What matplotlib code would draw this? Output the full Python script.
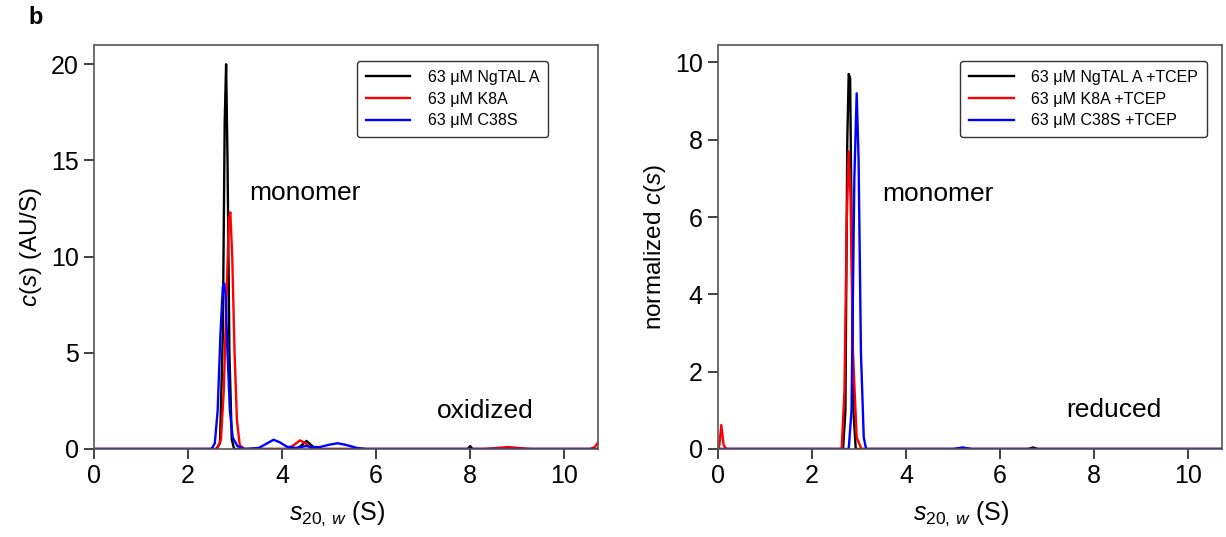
import matplotlib
matplotlib.use("Agg")
import matplotlib.pyplot as plt

plt.rcParams['font.family'] = ['Liberation Sans', 'DejaVu Sans']
plt.rcParams['mathtext.fontset'] = 'custom'
plt.rcParams['mathtext.rm'] = 'Liberation Sans'
plt.rcParams['mathtext.it'] = 'Liberation Sans:italic'
plt.rcParams['mathtext.bf'] = 'Liberation Sans:bold'

# ---- Left panel (oxidized) ----
ox_black_s = [0, 2.60, 2.68, 2.74, 2.78, 2.81, 2.84, 2.88, 2.93, 2.98, 4.30, 4.42, 4.52, 4.62, 4.72, 7.95, 8.00, 8.05, 10.75]
ox_black_c = [0, 0, 0.3, 6.0, 17.0, 20.0, 15.0, 5.0, 0.5, 0, 0, 0.2, 0.42, 0.2, 0, 0, 0.15, 0, 0]

ox_red_s = [0, 2.62, 2.70, 2.76, 2.82, 2.87, 2.90, 2.94, 2.99, 3.04, 3.10, 3.20, 4.10, 4.25, 4.38, 4.50, 4.62, 4.70, 8.30, 8.80, 9.30, 10.55, 10.65, 10.75]
ox_red_c = [0, 0, 0.5, 3.0, 8.0, 12.0, 12.3, 10.0, 5.0, 1.5, 0.2, 0, 0, 0.2, 0.45, 0.3, 0.05, 0, 0, 0.1, 0, 0, 0.1, 0.45]

ox_blue_s = [0, 2.50, 2.57, 2.63, 2.69, 2.74, 2.77, 2.80, 2.84, 2.89, 2.95, 3.05, 3.20, 3.50, 3.65, 3.82, 3.95, 4.10, 4.30, 4.50, 4.65, 4.80, 5.00, 5.18, 5.35, 5.60, 5.80, 10.75]
ox_blue_c = [0, 0, 0.3, 2.0, 6.0, 8.4, 8.6, 8.0, 5.0, 2.0, 0.6, 0.15, 0, 0.05, 0.25, 0.48, 0.35, 0.12, 0.05, 0.15, 0.1, 0.1, 0.22, 0.30, 0.22, 0.05, 0, 0]

# ---- Right panel (reduced, normalized) ----
red_black_s = [0, 2.66, 2.71, 2.75, 2.78, 2.81, 2.84, 2.88, 2.93, 6.60, 6.70, 6.80, 10.75]
red_black_c = [0, 0, 1.0, 8.0, 9.7, 9.6, 6.0, 1.0, 0, 0, 0.04, 0, 0]

red_red_s = [0, 0.03, 0.07, 0.12, 0.18, 2.63, 2.69, 2.74, 2.78, 2.82, 2.87, 2.95, 3.05, 10.75]
red_red_c = [0, 0.1, 0.62, 0.1, 0, 0, 1.5, 6.0, 7.7, 6.5, 2.5, 0.3, 0, 0]

red_blue_s = [0, 2.78, 2.84, 2.90, 2.95, 2.99, 3.04, 3.10, 3.15, 5.00, 5.20, 5.40, 10.75]
red_blue_c = [0, 0, 1.0, 7.0, 9.2, 7.5, 2.5, 0.3, 0, 0, 0.04, 0, 0]

legend_ox = ['63 \u03bcM NgTAL A', '63 \u03bcM K8A', '63 \u03bcM C38S']
legend_red = ['63 \u03bcM NgTAL A +TCEP', '63 \u03bcM K8A +TCEP', '63 \u03bcM C38S +TCEP']
colors = ['black', '#ff0000', '#0000ff']

W, H = 1226, 537
fig = plt.figure(figsize=(W / 100, H / 100), dpi=100)

def ax_rect(x0, y0, x1, y1):
    return [x0 / W, 1 - y1 / H, (x1 - x0) / W, (y1 - y0) / H]

ax1 = fig.add_axes(ax_rect(94, 45, 598, 449))
ax2 = fig.add_axes(ax_rect(718, 45, 1222, 449))

lw = 1.7
for s, c, col, lab in zip([ox_black_s, ox_red_s, ox_blue_s],
                          [ox_black_c, ox_red_c, ox_blue_c], colors, legend_ox):
    ax1.plot(s, c, color=col, lw=lw, label=lab)
for s, c, col, lab in zip([red_black_s, red_red_s, red_blue_s],
                          [red_black_c, red_red_c, red_blue_c], colors, legend_red):
    ax2.plot(s, c, color=col, lw=lw, label=lab)

ax1.set_xlim(0, 10.72)
ax1.set_ylim(0, 21.0)
ax1.set_yticks([0, 5, 10, 15, 20])
ax2.set_xlim(0, 10.72)
ax2.set_ylim(0, 10.45)
ax2.set_yticks([0, 2, 4, 6, 8, 10])

for ax in (ax1, ax2):
    ax.set_xticks([0, 2, 4, 6, 8, 10])
    ax.tick_params(direction='out', length=7, width=1.2, labelsize=18, color='#222222', pad=4)
    for sp in ax.spines.values():
        sp.set_color('#555555')
        sp.set_linewidth(1.2)
    ax.set_xlabel(r'$s_{20,\,w}$ (S)', fontsize=18, labelpad=5)
    ax.xaxis.set_label_coords(0.482, -0.125)

ax1.set_ylabel(r'$c$($s$) (AU/S)', fontsize=17.5, labelpad=5)
ax2.set_ylabel(r'normalized $c$($s$)', fontsize=17.5, labelpad=5)

leg_kw = dict(loc='upper right', fontsize=11.5, frameon=True, fancybox=True,
              edgecolor='#333333', handlelength=2.8, borderpad=0.55, labelspacing=0.42,
              handletextpad=1.1, borderaxespad=0)
l1 = ax1.legend(bbox_to_anchor=(0.901, 0.960), **leg_kw)
l2 = ax2.legend(bbox_to_anchor=(0.970, 0.960), **leg_kw)
for l in (l1, l2):
    l.get_frame().set_linewidth(1.0)
    l.get_frame().set_alpha(1)

ax1.text(3.3, 13.3, 'monomer', fontsize=19, ha='left', va='center')
ax1.text(7.3, 2.0, 'oxidized', fontsize=19, ha='left', va='center')
ax2.text(3.5, 6.6, 'monomer', fontsize=19, ha='left', va='center')
ax2.text(7.4, 1.0, 'reduced', fontsize=19, ha='left', va='center')

fig.text(28 / W, 1 - 18 / H, 'b', fontsize=17, fontweight='bold', ha='left', va='center')

fig.savefig('out.png', dpi=100)
